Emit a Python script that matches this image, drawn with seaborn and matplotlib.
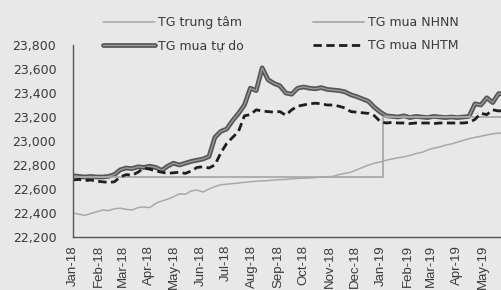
import numpy as np
import pandas as pd
import matplotlib
matplotlib.use("Agg")
import matplotlib.pyplot as plt
import matplotlib.dates as mdates
import matplotlib.patheffects as pe
from matplotlib.ticker import FuncFormatter, NullFormatter
import seaborn as sns

# ---------------- data (weekly readings) ----------------
week_start = "2018-01-01"
n_weeks = 74

tg_trung_tam = [22400, 22390, 22380, 22395, 22410, 22425, 22420, 22435, 22440, 22430,
                22425, 22445, 22450, 22445, 22480, 22500, 22515, 22535, 22560, 22555,
                22585, 22590, 22575, 22600, 22620, 22635, 22640, 22645, 22650, 22655,
                22660, 22665, 22668, 22670, 22675, 22678, 22680, 22685, 22688, 22690,
                22692, 22695, 22700, 22702, 22705, 22720, 22730, 22740, 22760, 22780,
                22800, 22815, 22825, 22840, 22850, 22860, 22868, 22880, 22895, 22905,
                22925, 22940, 22950, 22965, 22975, 22990, 23005, 23020, 23030, 23040,
                23050, 23060, 23065, 23070]

tg_tu_do = [22710, 22705, 22700, 22705, 22700, 22700, 22705, 22720, 22760, 22775,
            22770, 22785, 22780, 22790, 22780, 22755, 22790, 22815, 22800, 22815,
            22830, 22840, 22850, 22870, 23030, 23080, 23100, 23170, 23230, 23300,
            23440, 23420, 23610, 23510, 23480, 23460, 23400, 23390, 23440, 23450,
            23440, 23435, 23445, 23430, 23425, 23420, 23410, 23385, 23370, 23350,
            23330, 23280, 23240, 23210, 23205, 23200, 23210, 23195, 23205, 23200,
            23195, 23205, 23200, 23195, 23200, 23195, 23200, 23205, 23310, 23300,
            23360, 23320, 23395, 23390]

tg_nhtm = [22675, 22680, 22670, 22675, 22665, 22660, 22655, 22660, 22700, 22720,
           22715, 22740, 22775, 22765, 22750, 22740, 22730, 22735, 22740, 22730,
           22750, 22780, 22785, 22775, 22800, 22900, 22980, 23030, 23080, 23210,
           23220, 23260, 23250, 23245, 23240, 23245, 23215, 23260, 23290, 23300,
           23310, 23315, 23310, 23300, 23300, 23290, 23275, 23245, 23240, 23235,
           23230, 23210, 23160, 23150, 23155, 23150, 23150, 23145, 23150, 23150,
           23150, 23145, 23150, 23150, 23150, 23150, 23150, 23155, 23180, 23230,
           23220, 23260, 23250, 23260]

nhnn_dates = ["2018-01-01", "2019-01-03", "2019-01-03", "2019-05-31"]
tg_nhnn = [22700, 22700, 23200, 23200]

labels = ["TG trung tâm", "TG mua tự do", "TG mua NHNN", "TG mua NHTM"]
y_ticks = [22200, 22400, 22600, 22800, 23000, 23200, 23400, 23600, 23800]
month_ticks = pd.date_range("2018-01-01", "2019-05-01", freq="MS")

# ---------------- frames ----------------
dates = pd.date_range(week_start, periods=n_weeks, freq="7D")
df = pd.DataFrame({"date": dates, "tt": tg_trung_tam, "td": tg_tu_do, "nhtm": tg_nhtm})
df_nhnn = pd.DataFrame({"date": pd.to_datetime(nhnn_dates), "v": tg_nhnn})

# ---------------- style ----------------
sns.set_style("white")
plt.rcParams["font.family"] = ["DejaVu Sans", "Liberation Sans"]
bg = "#e8e8e8"
txt = "#3a3a3a"

fig = plt.figure(figsize=(5.02, 2.90), dpi=100, facecolor=bg)
ax = fig.add_axes([0.1454, 0.1828, 0.8546, 0.662])
ax.set_facecolor(bg)

light = "#a9a9a9"
sns.lineplot(data=df, x="date", y="tt", ax=ax, color=light, lw=1.1, label=labels[0])
sns.lineplot(data=df, x="date", y="td", ax=ax, color="#9a9a9a", lw=1.0, label=labels[1])
ax.lines[-1].set_path_effects([pe.Stroke(linewidth=3.4, foreground="#555555"), pe.Normal()])
sns.lineplot(data=df_nhnn, x="date", y="v", ax=ax, color=light, lw=1.3,
             estimator=None, sort=False, label=labels[2])
sns.lineplot(data=df, x="date", y="nhtm", ax=ax, color="#1e1e1e", lw=2.0, label=labels[3])
ax.lines[-1].set_dashes([3.0, 1.6])

# ---------------- axes ----------------
ax.set_xlim(pd.Timestamp("2018-01-01"), pd.Timestamp("2019-05-24"))
ax.set_ylim(22200, 23800)
ax.set_yticks(y_ticks)
ax.yaxis.set_major_formatter(FuncFormatter(lambda v, p: f"{v:,.0f}"))
ax.set_xticks(month_ticks)
ax.xaxis.set_major_formatter(NullFormatter())
ax.set_xlabel("")
ax.set_ylabel("")

# rotated month labels
for d in month_ticks:
    ax.text(d, -0.042, d.strftime("%b-%y"), transform=ax.get_xaxis_transform(),
            rotation=90, ha="center", va="top", fontsize=9.5, color=txt,
            family=["Liberation Sans", "DejaVu Sans"], clip_on=False)

for s in ["top", "right"]:
    ax.spines[s].set_visible(False)
for s in ["left", "bottom"]:
    ax.spines[s].set_color("#555555")
    ax.spines[s].set_linewidth(1.0)

ax.tick_params(axis="y", direction="out", length=5, width=0.9, color="#555555",
               labelsize=9, labelcolor=txt, pad=7)
ax.tick_params(axis="x", direction="out", length=3, width=0.9, color="#555555")

leg = fig.legend(*ax.get_legend_handles_labels(), ncol=2, frameon=False,
                 loc="upper left", bbox_to_anchor=(103 / 502, 1 - 16 / 290),
                 fontsize=9, handlelength=4.15, handletextpad=0.25, columnspacing=5.5,
                 labelspacing=0.8, borderaxespad=0, borderpad=0)
ax.get_legend().remove()
for t in leg.get_texts():
    t.set_color(txt)

fig.savefig("out.png", dpi=100, facecolor=bg)
